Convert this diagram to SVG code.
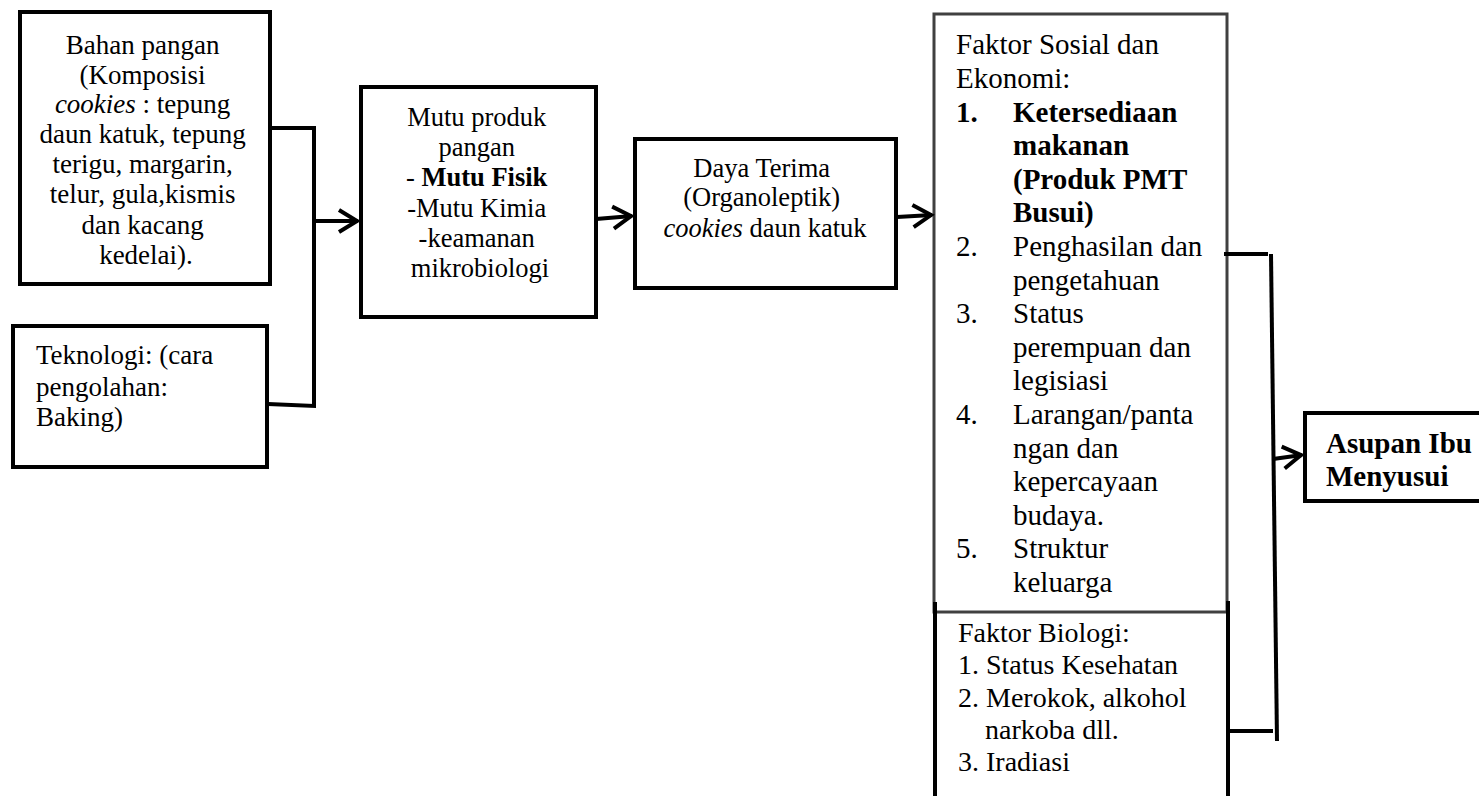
<svg xmlns="http://www.w3.org/2000/svg" width="1479" height="796" viewBox="0 0 1479 796">
<defs>
<marker id="arr" markerUnits="userSpaceOnUse" markerWidth="30" markerHeight="30" viewBox="-25 -15 30 30" refX="0" refY="0" orient="auto">
<path d="M-19,-11 L-1,0 L-19,11" fill="none" stroke="#000" stroke-width="4" stroke-linejoin="miter"/>
</marker>
</defs>
<style>
.box{fill:#fff;stroke:#000;stroke-width:4}
.gbox{fill:#fff;stroke:#404040;stroke-width:3}
.t{font-family:"Liberation Serif","Times New Roman",serif;fill:#000}
.c{text-anchor:middle}
.b{font-weight:bold}
.i{font-style:italic}
.con{fill:none;stroke:#000;stroke-width:4}
</style>
<rect width="1479" height="796" fill="#fff"/>
<g id="bahan">
<rect class="box" x="20" y="12" width="250" height="272"/>
<text class="t c" font-size="27">
<tspan x="146" y="54">Bahan pangan</tspan>
<tspan x="146" y="84">(Komposisi</tspan>
<tspan x="146" y="113"><tspan class="i">cookies</tspan> : tepung</tspan>
<tspan x="146" y="143">daun katuk, tepung</tspan>
<tspan x="146" y="173">terigu, margarin,</tspan>
<tspan x="146" y="203">telur, gula,kismis</tspan>
<tspan x="146" y="234">dan kacang</tspan>
<tspan x="146" y="264">kedelai).</tspan>
</text>
</g>
<g id="teknologi">
<rect class="box" x="13" y="326" width="254" height="141"/>
<text class="t" font-size="27">
<tspan x="36" y="364">Teknologi: (cara</tspan>
<tspan x="36" y="396">pengolahan:</tspan>
<tspan x="36" y="426">Baking)</tspan>
</text>
</g>
<g id="mutu">
<rect class="box" x="361" y="87" width="235" height="230"/>
<text class="t c" font-size="26.5">
<tspan x="480" y="126">Mutu produk</tspan>
<tspan x="480" y="156">pangan</tspan>
<tspan x="480" y="186">- <tspan class="b">Mutu Fisik</tspan></tspan>
<tspan x="480" y="217">-Mutu Kimia</tspan>
<tspan x="480" y="247">-keamanan</tspan>
<tspan x="480" y="277">mikrobiologi</tspan>
</text>
</g>
<g id="daya">
<rect class="box" x="635" y="139" width="261" height="149"/>
<text class="t c" font-size="26.5">
<tspan x="765" y="177">Daya Terima</tspan>
<tspan x="765" y="206">(Organoleptik)</tspan>
<tspan x="765" y="237"><tspan class="i">cookies</tspan> daun katuk</tspan>
</text>
</g>
<g id="sosial">
<rect class="gbox" x="934" y="14" width="293" height="598"/>
<text class="t" font-size="29">
<tspan x="956" y="54">Faktor Sosial dan</tspan>
<tspan x="956" y="88">Ekonomi:</tspan>
<tspan class="b" x="956" y="122">1.</tspan>
<tspan class="b" x="1013" y="122">Ketersediaan</tspan>
<tspan class="b" x="1013" y="155">makanan</tspan>
<tspan class="b" x="1013" y="189">(Produk PMT</tspan>
<tspan class="b" x="1013" y="222">Busui)</tspan>
<tspan x="956" y="256">2.</tspan>
<tspan x="1013" y="256">Penghasilan dan</tspan>
<tspan x="1013" y="290">pengetahuan</tspan>
<tspan x="956" y="323">3.</tspan>
<tspan x="1013" y="323">Status</tspan>
<tspan x="1013" y="357">perempuan dan</tspan>
<tspan x="1013" y="390">legisiasi</tspan>
<tspan x="956" y="424">4.</tspan>
<tspan x="1013" y="424">Larangan/panta</tspan>
<tspan x="1013" y="458">ngan dan</tspan>
<tspan x="1013" y="491">kepercayaan</tspan>
<tspan x="1013" y="525">budaya.</tspan>
<tspan x="956" y="558">5.</tspan>
<tspan x="1013" y="558">Struktur</tspan>
<tspan x="1013" y="592">keluarga</tspan>
</text>
</g>
<g id="biologi">
<path class="con" d="M935 602 V800 M1228 601 V800"/>
<text class="t" font-size="28">
<tspan x="958" y="642">Faktor Biologi:</tspan>
<tspan x="958" y="674">1. Status Kesehatan</tspan>
<tspan x="958" y="707">2. Merokok, alkohol</tspan>
<tspan x="985" y="739">narkoba dll.</tspan>
<tspan x="958" y="771">3. Iradiasi</tspan>
</text>
</g>
<g id="asupan">
<path d="M1485 413 H1305 V501 H1485 Z" fill="#fff" stroke="#000" stroke-width="4"/>
<text class="t b" font-size="29">
<tspan x="1326" y="453">Asupan Ibu</tspan>
<tspan x="1326" y="486">Menyusui</tspan>
</text>
</g>
<g id="connectors">
<path class="con" d="M270 128 H314 V406 L268 404"/>
<path class="con" d="M314 221 L358 221" marker-end="url(#arr)"/>
<path class="con" d="M596 219 L632 216" marker-end="url(#arr)"/>
<path class="con" d="M897 217 L932 215" marker-end="url(#arr)"/>
<path class="con" d="M1224 254 H1268"/>
<path class="con" d="M1271 254 L1277 741"/>
<path class="con" d="M1228 731 H1273"/>
<path class="con" d="M1273 459 L1302 455" marker-end="url(#arr)"/>
</g>
</svg>
